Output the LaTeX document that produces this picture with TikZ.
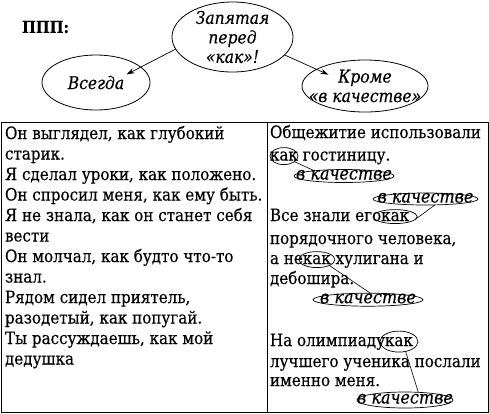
\documentclass[tikz,border=0pt]{standalone}
\usepackage{fontspec}
\setmainfont{DejaVu Serif}[FakeStretch=0.89, FakeBold=0.3]
\usetikzlibrary{shapes.geometric,arrows.meta}
\begin{document}
\begin{tikzpicture}[x=1pt,y=-1pt,
  every node/.style={inner sep=0pt, outer sep=0pt},
  txt/.style={anchor=base west, font=\fontsize{17}{19}\selectfont},
  oval/.style={ellipse, draw, line width=0.8pt, inner xsep=-16pt, inner ysep=-7pt, align=center,
    font=\fontsize{17.5}{19.5}\selectfont\itshape},
  ring/.style={ellipse, draw, line width=0.7pt, inner sep=0pt},
  kach/.style={ellipse, draw, line width=0.7pt, inner xsep=-18pt, inner ysep=0pt,
    text height=7pt, text depth=0pt, font=\fontsize{18}{18}\selectfont\itshape},
  link/.style={line width=0.6pt},
  arr/.style={line width=0.7pt, -{Stealth[length=8pt,width=5pt]}},
  frame/.style={line width=1pt}
]
\useasboundingbox (0,0) rectangle (489,413);

% header
\node[anchor=west, font=\fontsize{16.5}{19}\selectfont\bfseries] (ppp) at (22,27) {ППП:};
\node[oval, minimum width=121, minimum height=70] (top) at (232.5,37) {Запятая\\перед\\«как»!};
\node[oval, minimum width=108, minimum height=55] (vs) at (96,82.5) {Всегда};
\node[oval, minimum width=126, minimum height=52] (kr) at (365,86) {Кроме\\«в качестве»};
\draw[arr, shorten >=-16pt] (top.192) -- (vs.19);
\draw[arr, shorten >=-13pt] (top.341) -- (kr.161);

% table
\draw[frame] (1,122) rectangle (488,412);
\coordinate (divtop) at (267,122);
\coordinate (divbot) at (267,412);
\draw[frame] (divtop) -- (divbot);

% left column
\node[txt] (l0) at (5,139) {Он выглядел, как глубокий};
\node[txt] (l1) at (5,159.5) {старик.};
\node[txt] (l2) at (5,180) {Я сделал уроки, как положено.};
\node[txt] (l3) at (5,200.5) {Он спросил меня, как ему быть.};
\node[txt] (l4) at (5,221) {Я не знала, как он станет себя};
\node[txt] (l5) at (5,241.5) {вести};
\node[txt] (l6) at (5,262) {Он молчал, как будто что-то};
\node[txt] (l7) at (5,282.5) {знал.};
\node[txt] (l8) at (5,303) {Рядом сидел приятель,};
\node[txt] (l9) at (5,323.5) {разодетый, как попугай.};
\node[txt] (l10) at (5,344) {Ты рассуждаешь, как мой};
\node[txt] (l11) at (5,364.5) {дедушка};

% right column
\node[txt] (r0) at (270,138) {Общежитие использовали};
\node[txt] (w1) at (270,160.5) {как};
\node[txt] (r1) at (w1.base east) {\ гостиницу.};
\node[ring, minimum width=28, minimum height=17] (k1) at (w1.center) {};
\node[kach, minimum width=100, minimum height=13] (q1) at (344,176) {в качестве};
\node[kach, minimum width=105, minimum height=12] (q2) at (425.5,199) {в качестве};
\draw[link] (k1.-28) -- (q1.170);

\node[txt] (r2) at (270,221) {Все знали его\ };
\node[txt] (w2) at (r2.base east) {как};
\node[ring, minimum width=44, minimum height=14] (k2) at (w2.center) {};
\draw[link] (k2.-7) -- (q2.-32);
\node[txt] (r3) at (270,244) {порядочного человека,};
\node[txt] (r4) at (270,264) {а не\ };
\node[txt] (w3) at (r4.base east) {как};
\node[txt] (r4b) at (w3.base east) {\ хулигана и};
\node[ring, minimum width=36, minimum height=16] (k3) at (w3.center) {};
\node[txt] (r5) at (270,284) {дебошира.};
\node[kach, minimum width=110, minimum height=13] (q3) at (368,299.7) {в качестве};
\draw[link] (k3.-25) -- (q3.70);

\node[txt] (r6) at (270,346) {На олимпиаду\ };
\node[txt] (w4) at (r6.base east) {как};
\node[ring, minimum width=38, minimum height=21] (k4) at (w4.center) {};
\node[txt] (r7) at (270,367) {лучшего ученика послали};
\node[txt] (r8) at (270,386) {именно меня.};
\node[kach, minimum width=96, minimum height=16] (q4) at (405,400) {в качестве};
\draw[link] (k4.-56) -- (q4.30);
\end{tikzpicture}
\end{document}
